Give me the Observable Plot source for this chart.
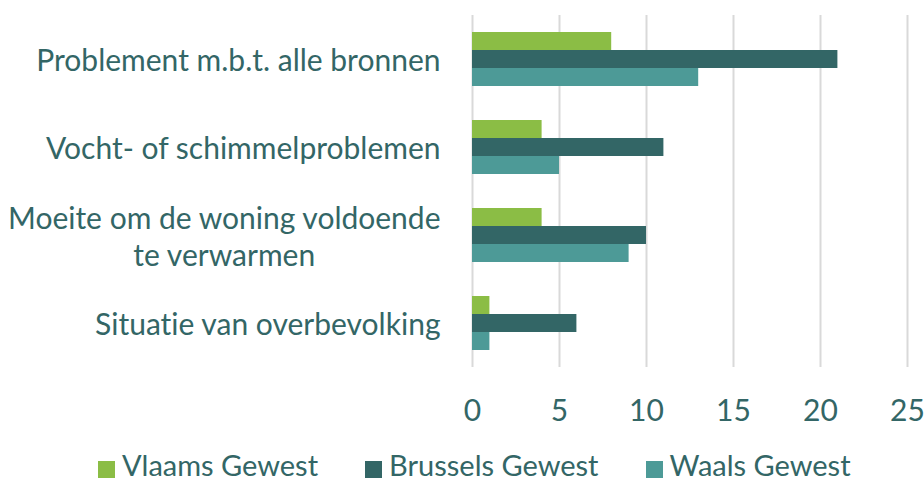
<!DOCTYPE html>
<html><head><meta charset="utf-8">
<script src="https://cdn.jsdelivr.net/npm/d3@7"></script>
<script src="https://cdn.jsdelivr.net/npm/@observablehq/plot@0.6"></script>
<style>
body{margin:0;background:#fff;font-family:Lato, sans-serif;font-variant-ligatures:none;}
#chart{width:924px;height:440px}
#legend{display:flex;justify-content:flex-start;align-items:flex-start;box-sizing:border-box;height:43px;padding-top:10px;padding-left:98px;gap:47px;color:#336666;font-size:29px;line-height:29px;white-space:nowrap}
.item{display:flex;align-items:flex-start;gap:7px}
.sw{width:17px;height:17px;display:inline-block;margin-top:11px}
svg text{font-variant-ligatures:none}
</style></head><body><div id="chart"></div><div id="legend"></div>
<script>
const categories = ["Problement m.b.t. alle bronnen","Vocht- of schimmelproblemen","Moeite om de woning voldoende\nte verwarmen","Situatie van overbevolking"];
const series = ["Vlaams Gewest","Brussels Gewest","Waals Gewest"];
const vlaams = [8,4,4,1];
const brussels = [21,11,10,6];
const waals = [13,5,9,1];
const colors = ["#8BBD45","#336666","#4D9A97"];
const xTicks = [0,5,10,15,20,25];
const values = [vlaams, brussels, waals];
const data = categories.flatMap((c,i)=> series.map((s,j)=>({category:c, series:s, value: values[j][i]})));
const textColor = "#336666";
const gap = 17; // half of the space between category groups
const plot = Plot.plot({
  width:924, height:440, marginLeft:472, marginRight:17, marginTop:15, marginBottom:73,
  style:{fontFamily:"Lato, sans-serif", fontSize:"30px", color:textColor, background:"white", overflow:"visible"},
  x:{domain:[0,25]},
  y:{domain:series, axis:null, padding:0},
  fy:{domain:categories, paddingInner:0.386, paddingOuter:0.193, label:null},
  color:{domain:series, range:colors},
  marks:[
    Plot.ruleX(xTicks, {stroke:"#d9d9d9", strokeWidth:2, insetTop:-gap, insetBottom:-gap}),
    Plot.barX(data,{fy:"category", y:"series", x:"value", fill:"series"}),
    Plot.axisFy({anchor:"left", tickSize:0, tickPadding:32, label:null, fill:textColor, lineHeight:1.23}),
    Plot.axisX({anchor:"bottom", ticks:xTicks, tickSize:0, tickPadding:49, label:null, fill:textColor})
  ]
});
document.getElementById("chart").appendChild(plot);
// center the lines of multi-line category labels on their first line
plot.querySelectorAll("text").forEach(t => {
  const spans = t.querySelectorAll("tspan");
  if (spans.length > 1) {
    const w1 = spans[0].getComputedTextLength();
    t.setAttribute("text-anchor","middle");
    spans.forEach(s => s.setAttribute("x", -w1/2));
  }
});
const legend = d3.select("#legend");
series.forEach((s,i)=>{
  const item = legend.append("div").attr("class","item");
  item.append("span").attr("class","sw").style("background", colors[i]);
  item.append("span").text(s);
});
</script></body></html>
